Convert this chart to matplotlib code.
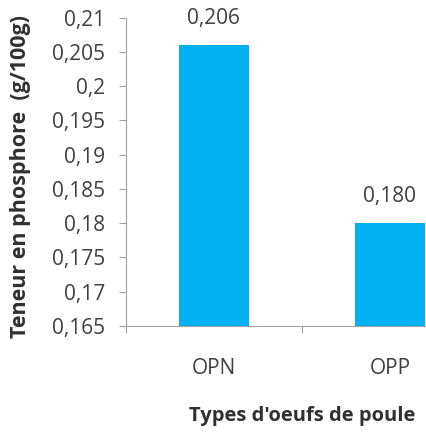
import matplotlib
matplotlib.use('Agg')
import matplotlib.pyplot as plt

# Teneur en phosphore des oeufs de poule
categories = ['OPN', 'OPP']
values = [0.206, 0.180]
value_labels = ['0,206', '0,180']
y_ticks = [0.165, 0.17, 0.175, 0.18, 0.185, 0.19, 0.195, 0.2, 0.205, 0.21]
y_tick_labels = ['0,165', '0,17', '0,175', '0,18', '0,185', '0,19', '0,195', '0,2', '0,205', '0,21']

plt.rcParams['font.family'] = ['Open Sans', 'DejaVu Sans']

fig = plt.figure(figsize=(4.27, 4.32), dpi=100)
# axes run past the right edge, like in the cropped original
ax = fig.add_axes([0.295, 0.246, 0.824, 0.713])

x = range(len(categories))
ax.bar(x, values, width=0.4, color='#00B0F0')
ax.set_ylim(0.165, 0.21)
ax.set_xlim(-0.5, 1.5)

ax.set_yticks(y_ticks)
ax.set_yticklabels(y_tick_labels, fontsize=15, color='#404040')
ax.set_xticks([-0.5, 0.5, 1.5])
ax.set_xticklabels([])
ax.set_xticks(list(x), minor=True)
ax.set_xticklabels(categories, minor=True, fontsize=15, color='#404040')
ax.tick_params(axis='x', which='minor', length=0, pad=23)
ax.tick_params(axis='x', which='major', length=5, direction='out', color='#a0a0a0')
ax.tick_params(axis='y', length=5, direction='out', color='#a0a0a0', pad=10)

for s in ['top', 'right']:
    ax.spines[s].set_visible(False)
for s in ['left', 'bottom']:
    ax.spines[s].set_color('#a0a0a0')

for xi, v, lab in zip(x, values, value_labels):
    ax.text(xi, v + 0.0023, lab, ha='center', va='bottom', fontsize=15, color='#404040')

ax.set_ylabel('Teneur en phosphore  (g/100g)', fontsize=15.5, fontweight='bold', color='#303030')
ax.yaxis.set_label_coords(-0.27, 0.484)
ax.set_xlabel("Types d'oeufs de poule", fontsize=14.5, fontweight='bold', color='#303030')
ax.xaxis.set_label_coords((302 - 126) / (0.824 * 427), -0.26)

fig.savefig('out.png', dpi=100)
